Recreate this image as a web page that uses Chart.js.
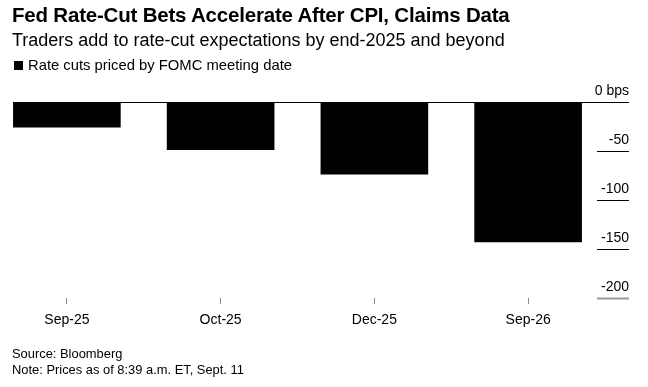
<!DOCTYPE html>
<html>
<head>
<meta charset="utf-8">
<script src="https://cdn.jsdelivr.net/npm/chart.js@4"></script>
<style>
  html, body { margin: 0; padding: 0; width: 648px; height: 387px; overflow: hidden; background: #fff; }
  body { position: relative; font-family: "Liberation Sans", Arial, Helvetica, sans-serif; color: #000; }
  #title { position: absolute; left: 12px; top: 3px; font-size: 20.5px; font-weight: bold; letter-spacing: -0.2px; white-space: nowrap; }
  #subtitle { position: absolute; left: 12px; top: 30px; font-size: 18px; white-space: nowrap; }
  #legend { position: absolute; left: 14px; top: 57px; font-size: 14.8px; white-space: nowrap; }
  #legend span { display: inline-block; width: 9px; height: 9px; background: #000; margin-right: 5px; }
  #source { position: absolute; left: 12px; top: 346px; font-size: 12.9px; line-height: 16px; white-space: nowrap; }
  #wrap { position: absolute; left: -10px; top: 0; width: 658px; height: 387px; }
</style>
</head>
<body>
<div id="wrap"><canvas id="grafico"></canvas></div>
<div id="title">Fed Rate-Cut Bets Accelerate After CPI, Claims Data</div>
<div id="subtitle">Traders add to rate-cut expectations by end-2025 and beyond</div>
<div id="legend"><span></span>Rate cuts priced by FOMC meeting date</div>
<div id="source">Source: Bloomberg<br>Note: Prices as of 8:39 a.m. ET, Sept. 11</div>
<script>
// dados
const reunioes = ['Sep-25', 'Oct-25', 'Dec-25', 'Sep-26'];
const cortes = [-26, -49, -74, -143];
const ticksY = [0, -50, -100, -150, -200];
const rotulosY = ['0 bps', '-50', '-100', '-150', '-200'];

// eixo y desenhado à direita, estilo Bloomberg
const eixoDireita = {
  id: 'eixoDireita',
  afterDatasetsDraw(chart) {
    const ctx = chart.ctx;
    const y = chart.scales.y;
    const barras = chart.getDatasetMeta(0).data;
    const x0 = barras[0].x - barras[0].width / 2;
    const xFim = 639;
    ctx.save();
    // linha do zero
    ctx.strokeStyle = '#000';
    ctx.lineWidth = 1;
    ctx.beginPath();
    ctx.moveTo(x0, Math.round(y.getPixelForValue(0)) + 0.5);
    ctx.lineTo(xFim, Math.round(y.getPixelForValue(0)) + 0.5);
    ctx.stroke();
    ctx.font = '14px "Liberation Sans", Arial, sans-serif';
    ctx.fillStyle = '#000';
    ctx.textAlign = 'right';
    ctx.textBaseline = 'alphabetic';
    ticksY.forEach((v, i) => {
      const py = Math.round(y.getPixelForValue(v)) + 0.5;
      if (v !== 0) {
        ctx.strokeStyle = v === -200 ? '#999' : '#000';
        ctx.lineWidth = v === -200 ? 2 : 1;
        ctx.beginPath();
        ctx.moveTo(607, py);
        ctx.lineTo(xFim, py);
        ctx.stroke();
      }
      ctx.fillText(rotulosY[i], xFim, py - 8);
    });
    ctx.restore();
  }
};

const config = {
  type: 'bar',
  data: {
    labels: reunioes,
    datasets: [{
      label: 'Rate cuts priced by FOMC meeting date',
      data: cortes,
      backgroundColor: '#000',
      borderWidth: 0,
      categoryPercentage: 1,
      barPercentage: 0.7
    }]
  },
  options: {
    responsive: true,
    maintainAspectRatio: false,
    animation: false,
    layout: { padding: { left: 0, right: 43, top: 102, bottom: 59 } },
    plugins: { legend: { display: false }, tooltip: { enabled: false } },
    scales: {
      x: {
        afterFit(scale) { scale.height = 30; },
        grid: { display: true, offset: false, drawOnChartArea: false, drawTicks: true, tickLength: 6, color: '#888' },
        border: { display: false },
        ticks: { color: '#000', font: { family: '"Liberation Sans", Arial, sans-serif', size: 14 }, padding: 8 }
      },
      y: {
        display: false,
        min: -200,
        max: 0,
        ticks: { stepSize: 50 }
      }
    }
  },
  plugins: [eixoDireita]
};

const ctx = document.getElementById('grafico');
if (ctx) {
  new Chart(ctx, config);
}
</script>
</body>
</html>
